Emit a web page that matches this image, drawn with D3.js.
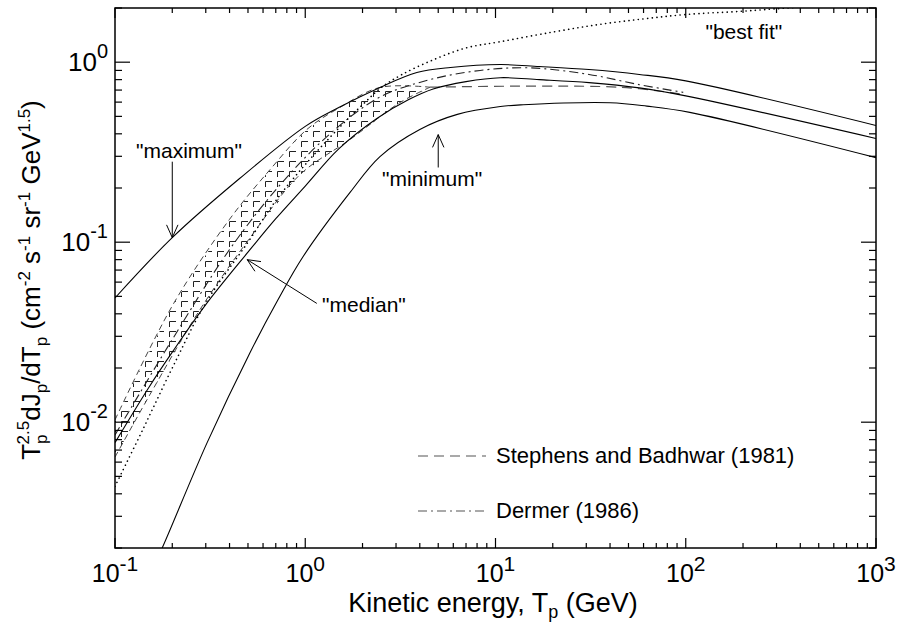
<!DOCTYPE html>
<html>
<head>
<meta charset="utf-8">
<script src="https://cdn.jsdelivr.net/npm/d3@7"></script>
<style>
  body { margin: 0; background: #fff; }
  text { font-family: "Liberation Sans", Arial, sans-serif; fill: #000; }
</style>
</head>
<body>
<script>
// values: T in GeV, flux T^2.5 dJ/dT
var maxT = [0.1, 0.2, 0.45, 1.0, 1.5, 2.47, 3.86, 5.8, 10.6, 17, 31, 57, 100, 1000];
var maxV = [0.049, 0.106, 0.225, 0.44, 0.56, 0.724, 0.877, 0.935, 0.97, 0.946, 0.91, 0.855, 0.787, 0.445];

var medT = [0.1, 0.15, 0.2, 0.3, 0.5, 0.7, 1.0, 1.5, 2.4, 3.5, 4.7, 7, 10.6, 17, 31, 57, 100, 1000];
var medV = [0.0077, 0.0155, 0.0245, 0.045, 0.088, 0.135, 0.205, 0.33, 0.49, 0.62, 0.71, 0.78, 0.82, 0.80, 0.77, 0.72, 0.65, 0.377];

var minT = [0.16, 0.177, 0.305, 0.513, 0.72, 0.973, 1.72, 2.47, 4.0, 6.3, 10.6, 14, 40, 62.5, 105, 1000];
var minV = [0.0016, 0.002, 0.0077, 0.0244, 0.048, 0.083, 0.189, 0.299, 0.423, 0.513, 0.567, 0.58, 0.595, 0.57, 0.526, 0.295];

var fitT = [0.1, 0.14, 0.2, 0.3, 0.5, 0.7, 1.0, 1.5, 2.0, 2.5, 3.2, 4.7, 7, 10.6, 20, 35, 60, 100, 200, 340, 1000];
var fitV = [0.0044, 0.0091, 0.020, 0.046, 0.10, 0.17, 0.27, 0.43, 0.58, 0.72, 0.85, 1.03, 1.2, 1.30, 1.47, 1.62, 1.74, 1.84, 1.92, 2.0, 2.15];

// Stephens and Badhwar (1981): band edges, then single line
var sbHiT = [0.1, 0.202, 0.40, 0.653, 1.02, 1.52, 2.47, 4.53];
var sbHiV = [0.0103, 0.0451, 0.134, 0.253, 0.423, 0.56, 0.724, 0.726];
var sbLoT = [0.1, 0.153, 0.28, 0.513, 0.937, 1.72, 3.15, 4.53];
var sbLoV = [0.0064, 0.0143, 0.0423, 0.106, 0.237, 0.372, 0.597, 0.726];
var sbT = [4.53, 45, 100];
var sbV = [0.726, 0.726, 0.66];

// Dermer (1986)
var derT = [0.1, 0.2, 0.4, 0.74, 1.35, 2.47, 4.53, 8.3, 15.1, 31, 57, 97];
var derV = [0.0085, 0.0288, 0.091, 0.209, 0.40, 0.64, 0.80, 0.90, 0.93, 0.855, 0.75, 0.68];

var xMajor = [0.1, 1, 10, 100, 1000];
var xExp = ["-1", "0", "1", "2", "3"];
var yMajor = [0.01, 0.1, 1];
var yExp = ["-2", "-1", "0"];

var W = 902, H = 626;
var pl = 115, pr = 876, pt = 8, pb = 548;

var x = d3.scaleLog().domain([0.1, 1000]).range([pl, pr]);
var y = d3.scaleLog().domain([0.002, 2]).range([pb, pt]);

function zip(ts, vs) { return ts.map(function(t, i) { return [t, vs[i]]; }); }

var line = d3.line()
    .x(function(d) { return x(d[0]); })
    .y(function(d) { return y(d[1]); })
    .curve(d3.curveCatmullRom.alpha(0.5));

var svg = d3.select("body").append("svg")
    .attr("width", W)
    .attr("height", H);

var defs = svg.append("defs");
defs.append("clipPath").attr("id", "plot")
  .append("rect")
    .attr("x", pl).attr("y", pt)
    .attr("width", pr - pl).attr("height", pb - pt);

var pat = defs.append("pattern")
    .attr("id", "hatch")
    .attr("patternUnits", "userSpaceOnUse")
    .attr("width", 12).attr("height", 10);
pat.append("path")
    .attr("d", "M1.5,1.5H8M1.5,1.5V7")
    .attr("stroke", "#222")
    .attr("stroke-width", 1)
    .attr("fill", "none");

var g = svg.append("g").attr("clip-path", "url(#plot)");

// hatched band
var band = zip(sbHiT, sbHiV).concat(zip(sbLoT, sbLoV).reverse());
g.append("path")
    .attr("d", d3.line().x(function(d) { return x(d[0]); }).y(function(d) { return y(d[1]); })(band) + "Z")
    .attr("fill", "url(#hatch)")
    .attr("stroke", "none");

var styles = [
  {t: sbHiT, v: sbHiV, dash: "6,4", color: "#444", w: 1},
  {t: sbLoT, v: sbLoV, dash: "6,4", color: "#444", w: 1},
  {t: sbT, v: sbV, dash: "10,6", color: "#555", w: 1.2},
  {t: derT, v: derV, dash: "9,4,2,4", color: "#222", w: 1.1},
  {t: fitT, v: fitV, dash: "0.1,4.6", color: "#000", w: 1.6, cap: "round"},
  {t: maxT, v: maxV, dash: null, color: "#000", w: 1.1},
  {t: medT, v: medV, dash: null, color: "#000", w: 1.1},
  {t: minT, v: minV, dash: null, color: "#000", w: 1.1}
];

styles.forEach(function(s) {
  g.append("path")
      .attr("d", line(zip(s.t, s.v)))
      .attr("fill", "none")
      .attr("stroke", s.color)
      .attr("stroke-width", s.w)
      .attr("stroke-dasharray", s.dash)
      .attr("stroke-linecap", s.cap || "butt");
});

// frame and ticks
svg.append("rect")
    .attr("x", pl).attr("y", pt)
    .attr("width", pr - pl).attr("height", pb - pt)
    .attr("fill", "none")
    .attr("stroke", "#000")
    .attr("stroke-width", 1.5);

var ticks = svg.append("g").attr("stroke", "#000").attr("stroke-width", 1.2);

x.ticks().forEach(function(t) {
  var major = xMajor.some(function(m) { return Math.abs(m - t) < 1e-9; }), len = major ? 10 : 5;
  ticks.append("line").attr("x1", x(t)).attr("x2", x(t)).attr("y1", pb).attr("y2", pb - len);
  ticks.append("line").attr("x1", x(t)).attr("x2", x(t)).attr("y1", pt).attr("y2", pt + len);
});

y.ticks().forEach(function(t) {
  var major = yMajor.some(function(m) { return Math.abs(m - t) < 1e-9; }), len = major ? 15 : 7;
  ticks.append("line").attr("y1", y(t)).attr("y2", y(t)).attr("x1", pl).attr("x2", pl + len);
  ticks.append("line").attr("y1", y(t)).attr("y2", y(t)).attr("x1", pr).attr("x2", pr - len);
});

// tick labels
xMajor.forEach(function(t, i) {
  var tx = svg.append("text")
      .attr("x", x(t)).attr("y", 582)
      .attr("text-anchor", "middle")
      .style("font-size", "25px");
  tx.append("tspan").text("10");
  tx.append("tspan").attr("dy", -11).style("font-size", "21px").text(xExp[i]);
});

yMajor.forEach(function(t, i) {
  var ty = svg.append("text")
      .attr("x", 108).attr("y", y(t) + 9)
      .attr("text-anchor", "end")
      .style("font-size", "26px");
  ty.append("tspan").text("10");
  ty.append("tspan").attr("dy", -13).style("font-size", "20px").text(yExp[i]);
});

// axis titles
var xt = svg.append("text")
    .attr("x", 493).attr("y", 612)
    .attr("text-anchor", "middle")
    .style("font-size", "27px");
xt.append("tspan").text("Kinetic energy, T");
xt.append("tspan").attr("dy", 6).style("font-size", "18px").text("p");
xt.append("tspan").attr("dy", -6).text(" (GeV)");

var yt = svg.append("text")
    .attr("transform", "translate(40,280) rotate(-90)")
    .attr("text-anchor", "middle")
    .style("font-size", "26px");
function part(txt, dy, size, dx) {
  var s = yt.append("tspan").text(txt);
  if (dy) s.attr("dy", dy);
  if (dx) s.attr("dx", dx);
  if (size) s.style("font-size", size);
  return s;
}
part("T");
part("p", 7, "17px");
part("2.5", -18, "17px", -10);
part("dJ", 11);
part("p", 7, "17px");
part("/dT", -7);
part("p", 7, "17px");
part(" (cm", -7);
part("-2", -10, "17px");
part(" s", 10);
part("-1", -10, "17px");
part(" sr", 10);
part("-1", -10, "17px");
part(" GeV", 10);
part("1.5", -10, "17px");
part(")", 10);

// annotations (data coordinates)
var notes = [
  {label: "\"maximum\"", lt: 0.245, lv: 0.295, anchor: "middle", from: [0.2, 0.28], to: [0.2, 0.106]},
  {label: "\"median\"", lt: 1.225, lv: 0.0407, anchor: "start", from: [1.15, 0.0457], to: [0.495, 0.080]},
  {label: "\"minimum\"", lt: 4.64, lv: 0.206, anchor: "middle", from: [5.0, 0.26], to: [5.0, 0.396]},
  {label: "\"best fit\"", lt: 202, lv: 1.34, anchor: "middle", from: null, to: null}
];

notes.forEach(function(n) {
  svg.append("text")
      .attr("x", x(n.lt)).attr("y", y(n.lv))
      .attr("text-anchor", n.anchor)
      .style("font-size", "21px")
      .text(n.label);
  if (!n.from) return;
  var x0 = x(n.from[0]), y0 = y(n.from[1]), x1 = x(n.to[0]), y1 = y(n.to[1]);
  var a = Math.atan2(y1 - y0, x1 - x0), L = 14, s = 0.42;
  var p = d3.path();
  p.moveTo(x0, y0); p.lineTo(x1, y1);
  p.moveTo(x1 - L * Math.cos(a - s), y1 - L * Math.sin(a - s));
  p.lineTo(x1, y1);
  p.lineTo(x1 - L * Math.cos(a + s), y1 - L * Math.sin(a + s));
  svg.append("path")
      .attr("d", p.toString())
      .attr("fill", "none")
      .attr("stroke", "#000")
      .attr("stroke-width", 1);
});

// legend
var legend = [
  {label: "Stephens and Badhwar (1981)", dash: "10,6", y: 456},
  {label: "Dermer (1986)", dash: "9,4,2,4", y: 511}
];
legend.forEach(function(l) {
  svg.append("line")
      .attr("x1", 418).attr("x2", 486)
      .attr("y1", l.y).attr("y2", l.y)
      .attr("stroke", "#555")
      .attr("stroke-width", 1.2)
      .attr("stroke-dasharray", l.dash);
  svg.append("text")
      .attr("x", 496).attr("y", l.y + 7)
      .style("font-size", "22px")
      .text(l.label);
});
</script>
</body>
</html>
